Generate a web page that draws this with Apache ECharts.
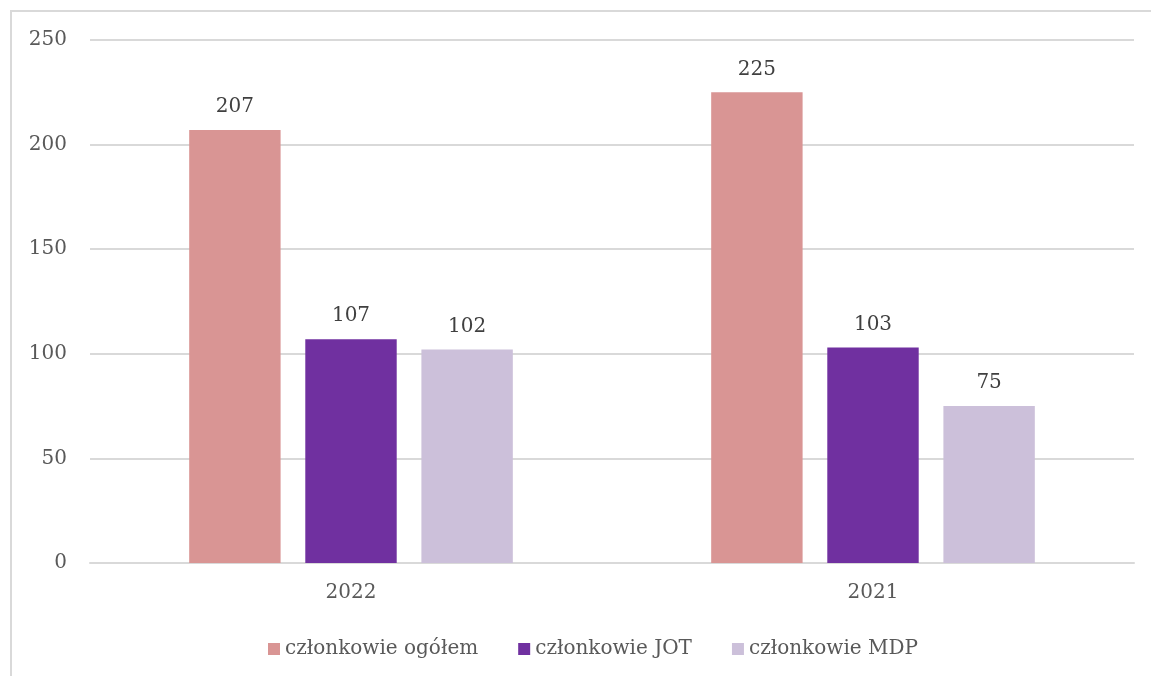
<!DOCTYPE html>
<html>
<head>
<meta charset="utf-8">
<script src="https://cdn.jsdelivr.net/npm/echarts@6/dist/echarts.min.js"></script>
<style>
  html, body { margin: 0; padding: 0; background: #fff; }
  #chart { width: 1151px; height: 676px; }
</style>
</head>
<body>
<div id="chart"></div>
<script>
const years = ['2022', '2021'];
const seriesNames = ['członkowie ogółem', 'członkowie JOT', 'członkowie MDP'];
const ogolem = [207, 225];
const jot = [107, 103];
const mdp = [102, 75];
const yTicks = [0, 50, 100, 150, 200, 250];

const colors = ['#D99594', '#7030A0', '#CCC0DA'];
const font = 'DejaVu Serif';

const chart = echarts.init(document.getElementById('chart'));

const makeSeries = (name, data, color) => ({
    name: name,
    type: 'bar',
    data: data,
    barCategoryGap: '38%',
    barGap: '27%',
    itemStyle: {color: color},
    label: {
        show: true,
        position: 'top',
        distance: 13,
        color: '#404040',
        fontFamily: font,
        fontSize: 20
    }
});

chart.setOption({
    animation: false,
    textStyle: {fontFamily: font},
    graphic: [{
        type: 'rect',
        shape: {x: 11, y: 11, width: 1200, height: 720},
        style: {fill: 'none', stroke: '#d9d9d9', lineWidth: 2},
        silent: true
    }],
    grid: {left: 90, right: 17, top: 40, bottom: 113, containLabel: false},
    legend: {
        left: 263,
        top: 634,
        itemWidth: 12,
        itemHeight: 12,
        itemGap: 40,
        icon: 'rect',
        textStyle: {color: '#595959', fontFamily: font, fontSize: 20},
        data: seriesNames
    },
    xAxis: {
        type: 'category',
        data: years,
        axisLine: {lineStyle: {color: '#d9d9d9', width: 2}},
        axisTick: {show: false},
        axisLabel: {color: '#595959', fontFamily: font, fontSize: 20, margin: 20}
    },
    yAxis: {
        type: 'value',
        min: yTicks[0],
        max: yTicks[yTicks.length - 1],
        interval: 50,
        axisLine: {show: false},
        axisTick: {show: false},
        splitLine: {lineStyle: {color: '#d9d9d9', width: 2}},
        axisLabel: {color: '#595959', fontFamily: font, fontSize: 20, margin: 23}
    },
    series: [
        makeSeries(seriesNames[0], ogolem, colors[0]),
        makeSeries(seriesNames[1], jot, colors[1]),
        makeSeries(seriesNames[2], mdp, colors[2])
    ]
});
</script>
</body>
</html>
